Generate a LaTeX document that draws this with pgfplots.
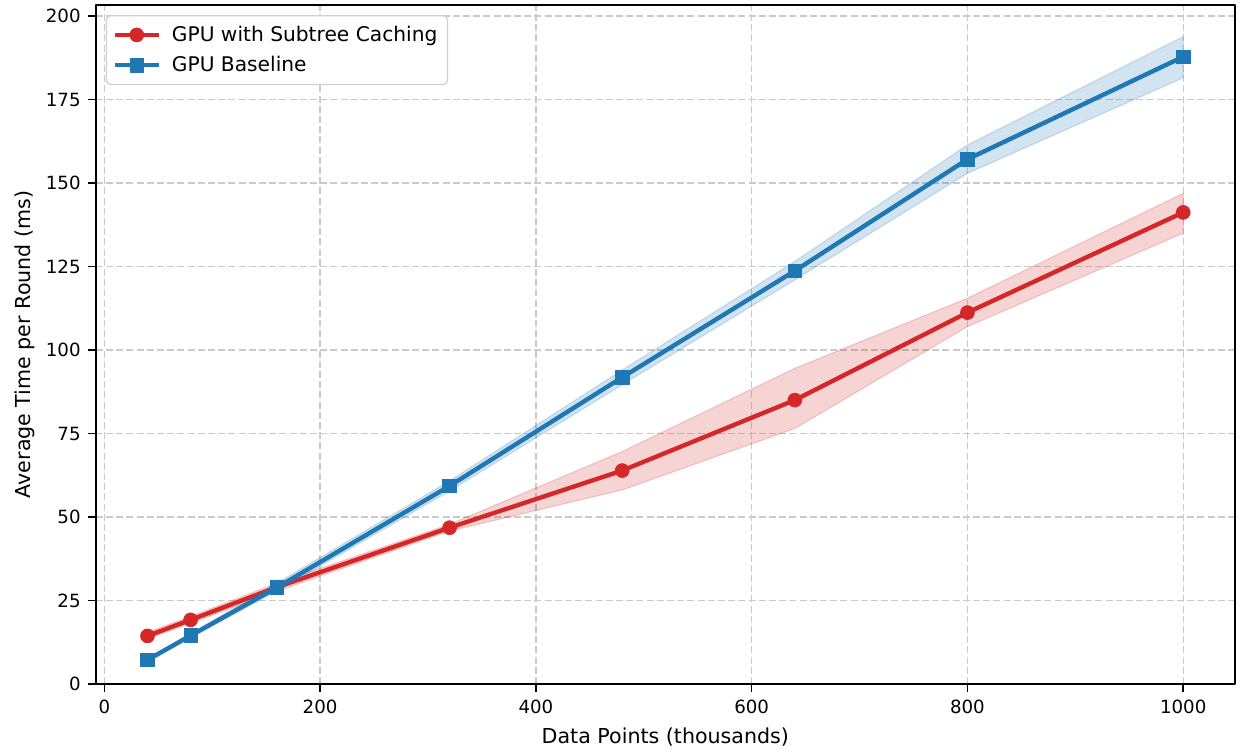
\documentclass[border=0pt]{standalone}
\usepackage{fontspec}
\setmainfont{DejaVu Sans}
\usepackage{pgfplots}
\pgfplotsset{compat=1.18}
\definecolor{mred}{HTML}{D62728}
\definecolor{mblue}{HTML}{1F77B4}
\definecolor{gridc}{HTML}{CACACA}
\definecolor{legc}{HTML}{D0D0D0}
\begin{document}
\begin{tikzpicture}
\begin{axis}[
  scale only axis, width=569.65pt, height=339.5pt,
  xmin=-8, xmax=1048, ymin=0, ymax=203.3,
  xtick={0,200,...,1000}, ytick={0,25,...,200},
  tick pos=left, tick align=outside, major tick length=4pt,
  tick style={black, line width=0.8pt},
  axis line style={line width=1pt},
  grid=major, grid style={gridc, dash pattern=on 3.5pt off 1.6pt, line width=0.65pt},
  /pgf/number format/assume math mode=true,
  /pgf/number format/1000 sep={},
  ticklabel style={font=\fontsize{9.1}{11}\selectfont},
  xticklabel style={yshift=-0.5pt},
  label style={font=\fontsize{10.3}{12}\selectfont},
  ylabel style={yshift=-1.5pt},
  xlabel={Data Points (thousands)},
  ylabel={Average Time per Round (ms)},
  legend style={at={(0.009,0.985)}, anchor=north west, draw=legc, line width=0.6pt,
    rounded corners=2pt, font=\fontsize{10.1}{13}\selectfont,
    inner xsep=3pt, inner ysep=3pt, row sep=2pt, cells={anchor=west},
    /tikz/every odd column/.append style={column sep=3.5pt}},
  legend image code/.code={\draw[mark repeat=2, mark phase=2, #1] plot coordinates {(0pt,0pt)(11pt,0pt)(22pt,0pt)};},
  line join=round,
]
\coordinate (sw) at (rel axis cs:0,0);
\coordinate (ne) at (rel axis cs:1,1);
% red band
\addplot[forget plot, draw=mred, draw opacity=0.2, fill=mred, fill opacity=0.2, line width=0.6pt] coordinates {
 (40,15.5) (80,20.2) (160,30.2) (320,47.8) (480,69.6) (640,94.5) (800,115.5) (1000,146.9)
 (1000,135.0) (800,107.0) (640,76.5) (480,58.1) (320,45.8) (160,27.8) (80,18.2) (40,13.5)
} -- cycle;
\addplot[mred, line width=2.2pt, mark=*, mark size=3.5pt, mark options={solid, fill=mred, draw=mred, line width=0.3pt}] coordinates {
 (40,14.4) (80,19.2) (160,29.0) (320,46.8) (480,63.9) (640,85.0) (800,111.2) (1000,141.2)
};
\addlegendentry{GPU with Subtree Caching}
% blue band
\addplot[forget plot, draw=mblue, draw opacity=0.2, fill=mblue, fill opacity=0.2, line width=0.6pt] coordinates {
 (40,7.7) (80,15.1) (160,30.2) (320,60.8) (480,94.0) (640,126.5) (800,161.4) (1000,193.8)
 (1000,181.5) (800,152.9) (640,121.0) (480,89.6) (320,57.8) (160,27.8) (80,13.9) (40,6.7)
} -- cycle;
\addplot[mblue, line width=2.2pt, mark=square*, mark size=3.4pt, mark options={solid, fill=mblue, draw=mblue, line width=0.3pt}] coordinates {
 (40,7.2) (80,14.5) (160,28.9) (320,59.3) (480,91.8) (640,123.7) (800,157.1) (1000,187.8)
};
\addlegendentry{GPU Baseline}
\end{axis}
\path ([xshift=-47.85pt, yshift=-31.5pt]sw) rectangle ([xshift=3.5pt, yshift=2.5pt]ne);
\end{tikzpicture}
\end{document}
